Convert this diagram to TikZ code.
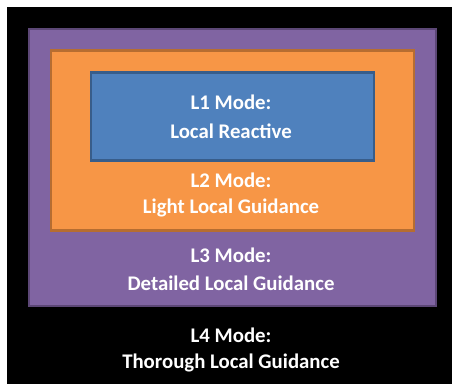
\documentclass[tikz,border=0pt]{standalone}
\usepackage{fontspec}
\setmainfont{Carlito}
\usepackage{tikz}
\usetikzlibrary{positioning}
\definecolor{lthree}{HTML}{8064A2}
\definecolor{lthreeline}{HTML}{5C4776}
\definecolor{ltwo}{HTML}{F79646}
\definecolor{ltwoline}{HTML}{B66D31}
\definecolor{lone}{HTML}{4F81BD}
\definecolor{loneline}{HTML}{385D8A}

\begin{document}
\begin{tikzpicture}[x=0.75pt, y=-0.75pt,
		modebox/.style={draw, anchor=north west, inner sep=0pt},
		modetext/.style={text=white, font=\fontsize{15.6}{18}\selectfont\bfseries}]
			% background
			\fill[white] (0,0) rectangle (452,384);
			\fill[black] (7,7) rectangle (452,384);
			\useasboundingbox (0,0) rectangle (452,384);
			
			% nested modes
			\node[modebox, fill=lthree, draw=lthreeline, line width=1.5pt,
				minimum width=407*0.75pt, minimum height=277*0.75pt] (l3) at (27.5,28) {};
			\node[modebox, fill=ltwo, draw=ltwoline, line width=2pt,
				minimum width=363*0.75pt, minimum height=180*0.75pt] (l2) at (49.5,49.5) {};
			\node[modebox, fill=lone, draw=loneline, line width=2pt,
				minimum width=283*0.75pt, minimum height=88*0.75pt] (l1) at (89.5,71.5) {};
			
			% labels
			\node[modetext] (l1a) at (231,102) {L1 Mode:};
			\node[modetext] (l1b) at (231,131) {Local Reactive};
			\node[modetext] (l2a) at (231,180) {L2 Mode:};
			\node[modetext] (l2b) at (231,208) {Light Local Guidance};
			\node[modetext] (l3a) at (231,255) {L3 Mode:};
			\node[modetext] (l3b) at (231,283) {Detailed Local Guidance};
			\node[modetext] (l4a) at (231,335) {L4 Mode:};
			\node[modetext] (l4b) at (231,363) {Thorough Local Guidance};
		\end{tikzpicture}
\end{document}
